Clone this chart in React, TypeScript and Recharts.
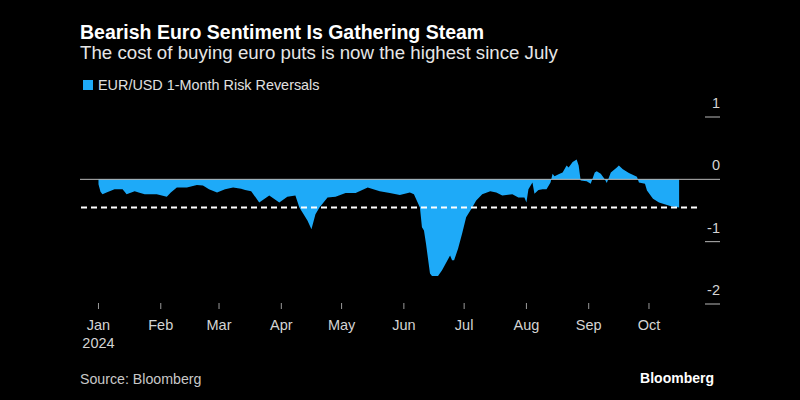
import { AreaChart, Area, XAxis, YAxis, ReferenceLine } from 'recharts'

const dates = [
  '2024-01-01', '2024-01-02', '2024-01-03', '2024-01-05', '2024-01-09', '2024-01-13',
  '2024-01-15', '2024-01-19', '2024-01-21', '2024-01-24', '2024-01-30', '2024-02-04',
  '2024-02-06', '2024-02-09', '2024-02-14', '2024-02-19', '2024-02-22', '2024-02-25',
  '2024-02-29', '2024-03-04', '2024-03-08', '2024-03-12', '2024-03-14', '2024-03-17',
  '2024-03-21', '2024-03-26', '2024-03-31', '2024-04-04', '2024-04-08', '2024-04-10',
  '2024-04-14', '2024-04-16', '2024-04-18', '2024-04-20', '2024-04-24', '2024-04-28',
  '2024-05-03', '2024-05-08', '2024-05-14', '2024-05-20', '2024-05-25', '2024-05-30',
  '2024-06-04', '2024-06-06', '2024-06-09', '2024-06-10', '2024-06-11', '2024-06-12',
  '2024-06-14', '2024-06-15', '2024-06-18', '2024-06-20', '2024-06-24', '2024-06-25',
  '2024-06-26', '2024-06-28', '2024-06-30', '2024-07-02', '2024-07-05', '2024-07-07',
  '2024-07-10', '2024-07-14', '2024-07-17', '2024-07-20', '2024-07-25', '2024-07-28',
  '2024-07-31', '2024-08-01', '2024-08-02', '2024-08-04', '2024-08-05', '2024-08-07',
  '2024-08-09', '2024-08-11', '2024-08-13', '2024-08-14', '2024-08-15', '2024-08-17',
  '2024-08-19', '2024-08-21', '2024-08-22', '2024-08-24', '2024-08-26', '2024-08-27',
  '2024-08-28', '2024-08-31', '2024-09-02', '2024-09-04', '2024-09-05', '2024-09-07',
  '2024-09-09', '2024-09-10', '2024-09-12', '2024-09-15', '2024-09-16', '2024-09-18',
  '2024-09-21', '2024-09-25', '2024-09-26', '2024-09-29', '2024-09-30', '2024-10-03',
  '2024-10-06', '2024-10-10', '2024-10-12', '2024-10-16',
]

const riskReversals = [
  -0.08, -0.2, -0.24, -0.21, -0.16, -0.16,
  -0.24, -0.19, -0.21, -0.24, -0.24, -0.28,
  -0.21, -0.13, -0.13, -0.09, -0.1, -0.16,
  -0.21, -0.16, -0.13, -0.15, -0.17, -0.19,
  -0.37, -0.26, -0.37, -0.28, -0.26, -0.45,
  -0.66, -0.8, -0.56, -0.45, -0.29, -0.28,
  -0.22, -0.22, -0.13, -0.19, -0.22, -0.25,
  -0.21, -0.24, -0.45, -0.77, -0.82, -1.03,
  -1.51, -1.55, -1.55, -1.46, -1.22, -1.3,
  -1.3, -1.11, -0.87, -0.61, -0.45, -0.34,
  -0.24, -0.19, -0.21, -0.26, -0.24, -0.29,
  -0.29, -0.37, -0.16, -0.05, -0.23, -0.17,
  -0.16, -0.16, -0.05, 0.09, 0.05, 0.08,
  0.11, 0.22, 0.19, 0.28, 0.32, 0.22,
  -0.02, -0.03, -0.07, 0.11, 0.13, 0.09,
  0.0, -0.06, 0.11, 0.19, 0.22, 0.16,
  0.1, 0.04, -0.05, -0.07, -0.18, -0.31,
  -0.37, -0.41, -0.43, -0.45,
]

const monthTicks = [
  '2024-01-01', '2024-02-01', '2024-03-01', '2024-04-01', '2024-05-01',
  '2024-06-01', '2024-07-01', '2024-08-01', '2024-09-01', '2024-10-01',
]
const monthLabels = ['Jan', 'Feb', 'Mar', 'Apr', 'May', 'Jun', 'Jul', 'Aug', 'Sep', 'Oct']
const yTicks = [1, 0, -1, -2]

const DAY = 86400000
const START = Date.UTC(2024, 0, 1)
const toDay = (s: string) => (Date.parse(s) - START) / DAY

const data = dates.map((d, i) => ({ day: toDay(d), value: riskReversals[i] }))
const tickDays = monthTicks.map(toDay)
const latest = riskReversals[riskReversals.length - 1]

const BLUE = '#1eaaf8'
const FONT = '"Liberation Sans", Arial, sans-serif'

function MonthTick(props: any) {
  const { x, payload } = props
  const i = tickDays.indexOf(payload.value)
  return (
    <g>
      <line x1={x} x2={x} y1={303} y2={309} stroke="#9a9a9a" strokeWidth={1} />
      <text x={x} y={330} textAnchor="middle" fill="#d4d4d4" fontSize={14.5} fontFamily={FONT}>
        {monthLabels[i]}
      </text>
      {i === 0 && (
        <text x={x} y={348} textAnchor="middle" fill="#d4d4d4" fontSize={14.5} fontFamily={FONT}>
          2024
        </text>
      )}
    </g>
  )
}

function ValueTick(props: any) {
  const { y, payload } = props
  const v = payload.value
  return (
    <g>
      <line x1={v === 0 ? 697 : 705} x2={720} y1={y} y2={y} stroke="#b8b8b8" strokeWidth={1} />
      <text x={720} y={y - 9} textAnchor="end" fill="#d4d4d4" fontSize={14.5} fontFamily={FONT}>
        {v}
      </text>
    </g>
  )
}

export default function App() {
  return (
    <div style={{ position: 'relative', width: 800, height: 400, background: '#000', fontFamily: FONT }}>
      <style>{'body{margin:0;background:#000}'}</style>
      <div style={{ position: 'absolute', left: 80, top: 19, color: '#fff', fontSize: 19.5, fontWeight: 700, lineHeight: '26px', whiteSpace: 'nowrap' }}>
        Bearish Euro Sentiment Is Gathering Steam
      </div>
      <div style={{ position: 'absolute', left: 80, top: 40, color: '#e6e6e6', fontSize: 18.7, lineHeight: '26px', whiteSpace: 'nowrap' }}>
        The cost of buying euro puts is now the highest since July
      </div>
      <div style={{ position: 'absolute', left: 80, top: 76, display: 'flex', alignItems: 'center', color: '#e0e0e0', fontSize: 14.4, lineHeight: '18px', whiteSpace: 'nowrap' }}>
        <span style={{ display: 'inline-block', width: 10, height: 10, background: BLUE, marginLeft: 3, marginRight: 5 }} />
        EUR/USD 1-Month Risk Reversals
      </div>
      <div style={{ position: 'absolute', left: 80, top: 370, color: '#c8c8c8', fontSize: 14.2, lineHeight: '18px', whiteSpace: 'nowrap' }}>
        Source: Bloomberg
      </div>
      <div style={{ position: 'absolute', right: 86, top: 369, color: '#fff', fontSize: 14, fontWeight: 700, lineHeight: '18px' }}>
        Bloomberg
      </div>
      <div style={{ position: 'absolute', left: 0, top: 0 }}>
        <AreaChart width={800} height={400} data={data} margin={{ top: 117, right: 80, bottom: 56, left: 80 }}>
          <XAxis
            dataKey="day"
            type="number"
            domain={[-9.2, 297.9]}
            ticks={tickDays}
            tick={<MonthTick />}
            tickLine={false}
            axisLine={false}
            height={40}
            interval={0}
          />
          <YAxis
            orientation="right"
            type="number"
            domain={[-2, 1]}
            ticks={yTicks}
            tick={<ValueTick />}
            tickLine={false}
            axisLine={false}
            width={23}
            interval={0}
          />
          <Area
            type="linear"
            dataKey="value"
            baseValue={0}
            fill={BLUE}
            fillOpacity={1}
            stroke="none"
            isAnimationActive={false}
          />
          <ReferenceLine y={0} stroke="#b8b8b8" strokeWidth={1} />
          <ReferenceLine y={latest} stroke="#fff" strokeWidth={2} strokeDasharray="6 4" />
        </AreaChart>
      </div>
    </div>
  )
}
